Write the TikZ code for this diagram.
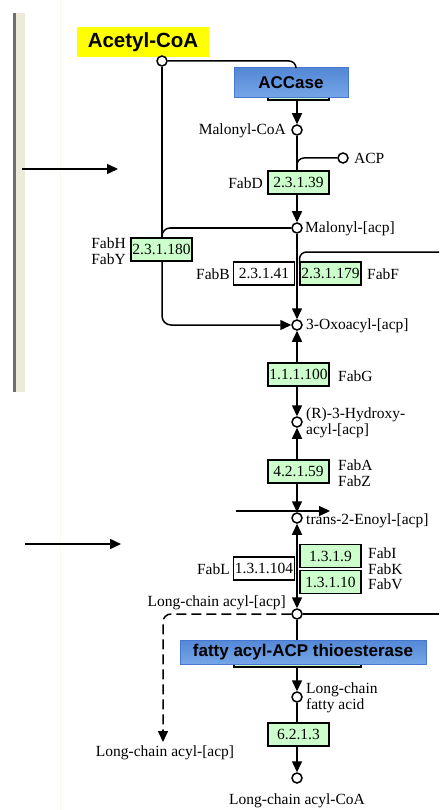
\documentclass[tikz,border=0pt]{standalone}
\usepackage{fontspec}
\setmainfont{Liberation Serif}
\newfontfamily\arialf{Liberation Sans}
\usetikzlibrary{arrows.meta}
\definecolor{ecgreen}{RGB}{204,255,204}
\definecolor{kyellow}{RGB}{255,255,0}
\definecolor{btop}{RGB}{84,136,214}
\definecolor{bbot}{RGB}{118,166,232}
\definecolor{bedge}{RGB}{70,120,210}
\definecolor{barbeige}{RGB}{238,234,218}
\definecolor{bargray}{RGB}{110,110,110}
\definecolor{faint}{RGB}{250,250,232}
\newcommand{\labf}{\fontsize{15.5}{15.5}\selectfont}
\newcommand{\ecf}{\fontsize{15.5}{15.5}\selectfont}
\tikzset{
  cpd/.style={circle, draw, fill=white, line width=1.5pt, inner sep=0pt, minimum size=10pt},
  ec/.style={draw, line width=1.1pt, fill=ecgreen, minimum width=61pt, minimum height=23pt, inner sep=0pt, font=\ecf},
  ecw/.style={ec, fill=white},
  lbl/.style={font=\labf, inner sep=0pt, align=left},
  conn/.style={line width=1.5pt},
  arr/.style={conn, -{Triangle[length=11pt,width=10pt]}},
  dconn/.style={conn, dash pattern=on 10pt off 5pt},
  bluebox/.style={draw=bedge, line width=1pt, top color=btop, bottom color=bbot, inner sep=0pt}
}
\begin{document}
\begin{tikzpicture}[x=1pt,y=-1pt]
\useasboundingbox (0,0) rectangle (439,810);
\fill[white] (0,0) rectangle (439,810);
% left frame bar
\fill[barbeige] (15,13) rectangle (25,392);
\fill[bargray] (13,13) rectangle (15.5,392);
\draw[faint, line width=1pt] (60,0) -- (60,810);
% side arrows
\coordinate (la1) at (22,169);
\coordinate (la2) at (118,169);
\draw[arr] (la1) -- (la2);
\coordinate (lb1) at (25,544);
\coordinate (lb2) at (121,544);
\draw[arr] (lb1) -- (lb2);

% Acetyl-CoA
\node[fill=kyellow, minimum width=132pt, minimum height=30pt, inner sep=0pt, font=\arialf\bfseries\fontsize{20.5}{22}\selectfont] (acetylbox) at (143,42) {Acetyl-CoA};
% hidden green box under ACCase
\node[draw, fill=ecgreen, line width=1.1pt, minimum width=61pt, minimum height=8pt, inner sep=0pt] (accg) at (298.5,96) {};
\node[bluebox, minimum width=114pt, minimum height=30pt, font=\arialf\bfseries\fontsize{17}{19}\selectfont] (accase) at (291,83) {ACCase};
% hidden green box under thioesterase
\node[draw, fill=ecgreen, line width=1.1pt, minimum width=127pt, minimum height=8pt, inner sep=0pt] (thg) at (297.5,663) {};
\node[bluebox, minimum width=246pt, minimum height=24pt, font=\arialf\bfseries\fontsize{17}{19}\selectfont] (thio) at (303,652) {fatty acyl-ACP thioesterase};

% compounds
\node[cpd] (acetyl) at (162,61) {};
\node[cpd] (malcoa) at (297,130) {};
\node[cpd] (acp) at (343,158) {};
\node[cpd] (malacp) at (297,228) {};
\node[cpd] (oxo) at (297,325) {};
\node[cpd] (hyd) at (297,422) {};
\node[cpd] (enoyl) at (297,518) {};
\node[cpd] (lcacp) at (297,614) {};
\node[cpd] (lcfa) at (297,697) {};
\node[cpd] (lcacoa) at (297,778) {};

% enzymes
\node[ec] (fabd) at (298.5,182.5) {2.3.1.39};
\node[ec] (fabh) at (161.5,249.5) {2.3.1.180};
\node[ecw] (fabb) at (264,273.5) {2.3.1.41};
\node[ec] (fabf) at (330.5,273.5) {2.3.1.179};
\node[ec] (fabg) at (298.5,374.5) {1.1.1.100};
\node[ec] (faba) at (298.5,471.5) {4.2.1.59};
\node[ec] (fabi) at (330.5,556) {1.3.1.9};
\node[ec] (fabk) at (330.5,582) {1.3.1.10};
\node[ecw] (fabl) at (264,568.5) {1.3.1.104};
\node[ec] (acs) at (298.5,734.5) {6.2.1.3};

% labels
\node[lbl, anchor=east] (lmalcoa) at (286,131) {Malonyl-CoA};
\node[lbl, anchor=west] (lacp) at (354,158) {ACP};
\node[lbl, anchor=east] (lfabd) at (263,183) {FabD};
\node[lbl, anchor=west] (lmalacp) at (305,229) {Malonyl-[acp]};
\node[lbl, anchor=east] (lfabh) at (126,251) {FabH\\FabY};
\node[lbl, anchor=east] (lfabb) at (230,274) {FabB};
\node[lbl, anchor=west] (lfabf) at (367,274) {FabF};
\node[lbl, anchor=west] (loxo) at (306,326) {3-Oxoacyl-[acp]};
\node[lbl, anchor=west] (lfabg) at (338,376) {FabG};
\node[lbl, anchor=west] (lhyd) at (306,423) {(R)-3-Hydroxy-\\acyl-[acp]};
\node[lbl, anchor=west] (lfaba) at (338,473) {FabA\\FabZ};
\node[lbl, anchor=west] (lenoyl) at (306,521) {trans-2-Enoyl-[acp]};
\node[lbl, anchor=west] (lfabi) at (368,569) {FabI\\FabK\\FabV};
\node[lbl, anchor=east] (lfabl) at (230,569) {FabL};
\node[lbl, anchor=east] (llcacp) at (286,603) {Long-chain acyl-[acp]};
\node[lbl, anchor=west] (llcfa) at (306,698) {Long-chain\\fatty acid};
\node[lbl] (llcacp2) at (165,753) {Long-chain acyl-[acp]};
\node[lbl] (llcacoa) at (297,801) {Long-chain acyl-CoA};

% connectors
\draw[conn, rounded corners=7] (acetyl.east) -| (accase.north -| 296,0);
\draw[arr] (accg.south -| malcoa) -- (malcoa.north);
\draw[conn] (malcoa.south) -- (fabd.north -| malcoa);
\draw[conn, rounded corners=7] (297,171) |- (acp.west);
\draw[arr] (fabd.south -| malacp) -- (malacp.north);
\draw[conn] (acetyl.south) -- (fabh.north -| acetyl);
\draw[conn, rounded corners=8] (malacp.west) -| (fabh.north -| acetyl);
\draw[arr, rounded corners=9] (fabh.south -| acetyl) |- (oxo.west);
\draw[arr] (malacp.south) -- (oxo.north);
\coordinate (fabfout) at (439,252);
\draw[conn, rounded corners=7] (299.5,264) |- (fabfout);
\draw[arr] (fabg.north -| oxo) -- (oxo.south);
\draw[arr] (fabg.south -| hyd) -- (hyd.north);
\draw[arr] (faba.north -| hyd) -- (hyd.south);
\draw[arr] (faba.south -| enoyl) -- (enoyl.north);
\coordinate (hz1) at (236,511);
\coordinate (hz2) at (330,511);
\draw[arr] (hz1) -- (hz2);
\coordinate (redmid) at (297,566);
\draw[arr] (redmid) -- (enoyl.south);
\draw[arr] (redmid) -- (lcacp.north);
\coordinate (lcout) at (439,614);
\draw[conn] (lcacp.east) -- (lcout);
\coordinate (dashend) at (163,742);
\draw[dconn, rounded corners=8] (lcacp.west) -| (dashend);
\draw[conn, -{Triangle[length=11pt,width=10pt]}] (163,730) -- (dashend);
\draw[conn] (lcacp.south) -- (thio.north -| lcacp);
\draw[arr] (thg.south -| lcfa) -- (lcfa.north);
\draw[conn] (lcfa.south) -- (acs.north -| lcfa);
\draw[arr] (acs.south -| lcacoa) -- (lcacoa.north);
\end{tikzpicture}
\end{document}
